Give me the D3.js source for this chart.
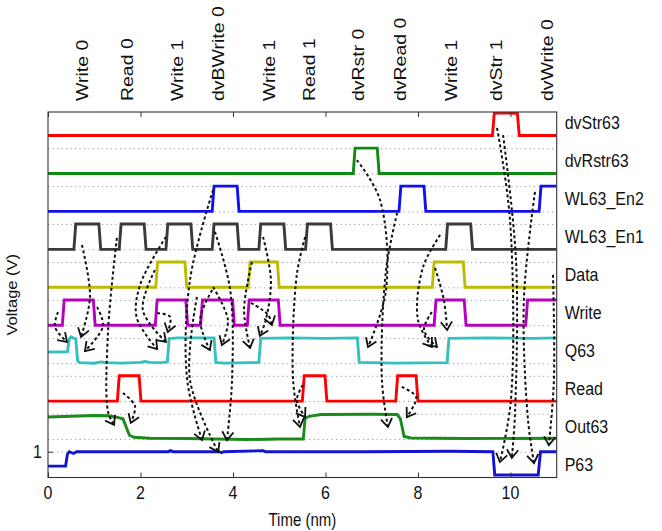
<!DOCTYPE html>
<html><head><meta charset="utf-8">
<script src="https://cdn.jsdelivr.net/npm/d3@7/dist/d3.min.js"></script>
<style>body{margin:0;background:#fff}text{font-family:"Liberation Sans",Arial,sans-serif;fill:#111}</style>
</head><body><svg id="c" width="662" height="531"></svg>
<script>
// ---------------- data ----------------
const timeTicks = [0, 2, 4, 6, 8, 10];
const voltTicks = [1];
const voltTickLabels = ["1"];
const traceNames = ["dvStr63","dvRstr63","WL63_En2","WL63_En1","Data","Write","Q63","Read","Out63","P63"];
const traceBaselines = [13.5, 12, 10.5, 9, 7.5, 6, 4.5, 3, 1.5, 0];
const eventLabels = ["Write 0","Read 0","Write 1","dvBWrite 0","Write 1","Read 1","dvRstr 0","dvRead 0","Write 1","dvStr 1","dvWrite 0"];
const eventTimes = [0.75, 1.71, 2.81, 3.69, 4.79, 5.66, 6.72, 7.63, 8.73, 9.70, 10.80];

// waveforms: [time (ns), level (V above trace baseline)]
const dvStr63 = [[0,0],[9.61,0],[9.65,0.88],[9.75,0.9],[10.1,0.88],[10.15,0.88],[10.19,0],[11,0]];
const dvRstr63 = [[0,0],[6.6,0],[6.64,1],[7.12,1],[7.16,0],[11,0]];
const WL63_En2 = [[0,0],[3.55,0],[3.59,1],[4.09,1],[4.13,0],[7.59,0],[7.63,1],[8.13,1],[8.17,0],[10.62,0],[10.66,1],[11,1]];
const WL63_En1 = [[0,0],[0.56,0],[0.6,1],[1.1,1],[1.14,0],[1.54,0],[1.58,1],[2.08,1],[2.12,0],[2.55,0],[2.59,1],[3.09,1],[3.13,0],
  [3.55,0],[3.59,1],[4.09,1],[4.13,0],[4.56,0],[4.6,1],[5.1,1],[5.14,0],[5.57,0],[5.61,1],[6.11,1],[6.15,0],[8.6,0],[8.64,1],[9.14,1],[9.18,0],[11,0]];
const Data = [[0,0],[2.33,0],[2.37,1],[2.96,1],[3.0,0],[4.33,0],[4.37,1],[4.96,1],[5.0,0],[8.31,0],[8.35,1],[8.98,1],[9.02,0],[11,0]];
const Write = [[0,0],[0.31,0],[0.35,1],[0.98,1],[1.02,0],[2.32,0],[2.36,1],[2.98,1],[3.02,0],[3.3,0],[3.34,1],[3.99,1],[4.03,0],
  [4.31,0],[4.35,1],[4.98,1],[5.02,0],[8.35,0],[8.39,1],[9.0,1],[9.04,0],[10.33,0],[10.37,1],[11,1]];
const Q63 = [[0,0.44],[0.42,0.45],[0.46,0.95],[0.5,1.04],[0.56,0.98],[0.6,0.97],[0.64,0.1],[0.68,0.02],[1.0,0.0],[1.15,0.05],[1.25,0.02],
  [1.6,0.0],[2.0,0.03],[2.1,0.07],[2.2,0.03],[2.45,0.02],[2.58,0.05],[2.62,0.97],[2.8,1.0],[3.59,1.0],[3.63,0.03],[3.8,0.0],[4.4,0.02],
  [4.56,0.03],[4.6,0.98],[5.2,1.0],[6.0,0.98],[6.69,1.0],[6.73,0.03],[7.5,0.0],[8.63,0.02],[8.67,0.98],[9.5,1.0],[10.5,0.98],[11,1.0]];
const Read = [[0,0],[1.5,0],[1.54,1],[1.97,1],[2.01,0],[5.5,0],[5.54,1],[5.99,1],[6.03,0],[7.52,0],[7.56,1],[7.96,1],[8.0,0],[11,0]];
const Out63 = [[0,0.87],[0.5,0.9],[1.0,0.93],[1.3,0.92],[1.5,0.86],[1.62,0.8],[1.76,0.15],[1.86,0.07],[2.2,0.03],[3.0,0.02],[3.6,0.0],
  [4.3,-0.02],[5.0,0.0],[5.52,0.0],[5.56,0.82],[5.65,0.9],[5.9,0.97],[7.0,0.98],[7.55,0.97],[7.62,0.8],[7.7,0.1],[7.85,0.04],[9.0,0.02],[11,0.03]];
const P63 = [[0,0.43],[0.38,0.43],[0.42,0.9],[0.46,1.0],[0.55,0.93],[0.62,1.0],[2.6,1.0],[2.65,1.04],[2.7,1.0],[3.7,1.0],[3.75,0.96],
  [3.8,1.0],[4.65,1.04],[4.7,1.0],[6.9,1.0],[8.7,1.02],[9.62,1.0],[9.66,0.08],[10.6,0.08],[10.65,1.0],[11,1.0]];
const traceData = [dvStr63, dvRstr63, WL63_En2, WL63_En1, Data, Write, Q63, Read, Out63, P63];

// dashed causal arrows, points in [time, voltage]
const arrows = [
  [[0.735,9.17],[0.908,7.12],[0.714,5.54]],
  [[0.216,6.52],[0.151,5.93],[0.411,5.34]],
  [[1.06,6.72],[1.19,5.97],[0.80,4.98]],
  [[1.49,9.45],[1.30,5.81],[1.30,2.57],[1.43,2.06]],
  [[1.62,3.32],[1.88,2.81],[1.79,2.14]],
  [[2.55,9.49],[1.99,7.59],[1.92,6.29],[2.36,5.06]],
  [[2.31,8.18],[2.05,6.60],[2.55,5.34]],
  [[2.36,6.48],[2.64,6.33],[2.59,5.73]],
  [[3.57,11.35],[3.07,7.79],[3.01,3.84],[3.33,1.46]],
  [[3.61,9.69],[3.94,7.39],[3.98,3.84],[3.87,1.46]],
  [[3.55,7.39],[3.29,6.21],[3.50,5.02]],
  [[3.57,7.51],[3.89,6.21],[3.76,5.22]],
  [[3.22,7.12],[3.07,3.84],[3.68,0.99]],
  [[4.65,9.49],[4.82,7.79],[4.71,6.21],[4.58,5.58]],
  [[4.41,8.50],[4.24,6.60],[4.37,5.10]],
  [[4.39,6.88],[4.76,6.41],[4.84,6.01]],
  [[5.56,9.49],[5.38,7.99],[5.30,3.84],[5.45,1.98]],
  [[5.51,3.64],[5.38,3.04],[5.56,2.37]],
  [[6.68,12.53],[7.18,10.95],[7.31,7.39],[6.92,5.14]],
  [[7.55,10.44],[7.31,8.18],[7.22,3.84],[7.35,1.98]],
  [[7.65,3.56],[7.96,3.16],[7.76,2.37]],
  [[8.48,9.57],[8.11,8.30],[8.00,6.21],[8.30,5.14]],
  [[8.37,8.26],[8.56,7.00],[8.63,5.81]],
  [[8.30,6.52],[8.13,5.81],[8.41,5.14]],
  [[9.71,13.8],[9.99,10.16],[10.01,3.04],[9.77,0.59]],
  [[9.84,13.52],[10.12,8.58],[10.10,2.6],[10.03,0.75]],
  [[10.53,11.27],[10.29,7.00],[10.38,2.25],[10.51,0.55]],
  [[10.92,7.99],[10.94,3.84],[10.83,1.26]]
];

// ---------------- styles / layout ----------------
const colors = ["#ff0000","#118a11","#1010f0","#3a3a3a","#bcbc00","#b800c0","#33c0c0","#ff0000","#1a8a1a","#1414d0"];
const L = 48, R = 556.7, T = 112, B = 477.5, SY = 1.18;
const svg = d3.select("#c");
const x = d3.scaleLinear().domain([0, 11]).range([L, R]);
const y = d3.scaleLinear().domain([-0.02, 14.43]).range([B, T]);

svg.append("defs").append("clipPath").attr("id","clip")
  .append("rect").attr("x",L).attr("y",T).attr("width",R-L).attr("height",B-T);

// grid (dotted) at low & high level of every trace
const gridVals = [];
traceBaselines.forEach(b => { gridVals.push(b); gridVals.push(b + 1); });
const grid = svg.append("g").attr("transform",`translate(${L},0)`)
  .call(d3.axisLeft(y).tickValues(gridVals.filter(v => v < 14.4)).tickSize(-(R-L)).tickFormat(""));
grid.select(".domain").remove();
grid.selectAll("line").attr("stroke","#9a9a9a").attr("stroke-width",1).attr("stroke-dasharray","1.2,3.3");

// traces
const gTr = svg.append("g").attr("clip-path","url(#clip)");
traceData.forEach((arr, i) => {
  const b = traceBaselines[i];
  gTr.append("path").datum(arr)
    .attr("d", d3.line().x(d => x(d[0])).y(d => y(b + d[1]))(arr))
    .attr("fill","none").attr("stroke",colors[i]).attr("stroke-width",2.9).attr("stroke-linejoin","miter");
});

// frame
svg.append("rect").attr("x",L).attr("y",T).attr("width",R-L).attr("height",B-T)
  .attr("fill","none").attr("stroke","#333").attr("stroke-width",1.1);

// x ticks inside (bottom & top)
const xb = svg.append("g").attr("transform",`translate(0,${B})`)
  .call(d3.axisBottom(x).tickValues(timeTicks).tickSize(-5).tickFormat(""));
xb.select(".domain").remove(); xb.selectAll("line").attr("stroke","#333");
const xt = svg.append("g").attr("transform",`translate(0,${T})`)
  .call(d3.axisTop(x).tickValues(timeTicks).tickSize(-5).tickFormat(""));
xt.select(".domain").remove(); xt.selectAll("line").attr("stroke","#333");
const yl = svg.append("g").attr("transform",`translate(${L},0)`)
  .call(d3.axisLeft(y).tickValues(voltTicks).tickSize(-5).tickFormat(""));
yl.select(".domain").remove(); yl.selectAll("line").attr("stroke","#333");

// stretched text helper
function txt(xp, yp, s, size, anchor, rot) {
  return svg.append("text")
    .attr("transform",`translate(${xp},${yp}) scale(1,${SY})` + (rot ? ` rotate(${rot})` : ""))
    .attr("text-anchor",anchor).attr("dominant-baseline","central")
    .attr("font-size",size).text(s);
}
timeTicks.forEach(t => txt(x(t), 493, String(t), 16, "middle"));
voltTicks.forEach((v, i) => txt(L - 6, y(v), voltTickLabels[i], 16, "end"));
txt((L+R)/2, 520, "Time (nm)", 15, "middle");
txt(12, (T+B)/2, "Voltage (V)", 14, "middle", -90);
traceNames.forEach((n, i) => txt(R + 8, y(traceBaselines[i] + 0.5), n, 16, "start"));
eventLabels.forEach((n, i) => txt(x(eventTimes[i]), 101, n, 16.5, "start", -90));

// arrows
const curve = d3.line().x(d => x(d[0])).y(d => y(d[1])).curve(d3.curveCatmullRom.alpha(0.5));
const gA = svg.append("g");
arrows.forEach(pts => {
  const p = gA.append("path").attr("d", curve(pts)).attr("fill","none")
    .attr("stroke","#111").attr("stroke-width",2).attr("stroke-dasharray","3,2.6");
  const node = p.node(), len = node.getTotalLength();
  const e = node.getPointAtLength(len), s = node.getPointAtLength(Math.max(0, len - 7));
  const ang = Math.atan2(e.y - s.y, e.x - s.x), a = 0.6, h = 10;
  const p1 = [e.x - h*Math.cos(ang - a), e.y - h*Math.sin(ang - a)];
  const p2 = [e.x - h*Math.cos(ang + a), e.y - h*Math.sin(ang + a)];
  gA.append("path").attr("d", `M${p1[0]},${p1[1]}L${e.x},${e.y}L${p2[0]},${p2[1]}`)
    .attr("fill","none").attr("stroke","#111").attr("stroke-width",1.8);
});
</script></body></html>
